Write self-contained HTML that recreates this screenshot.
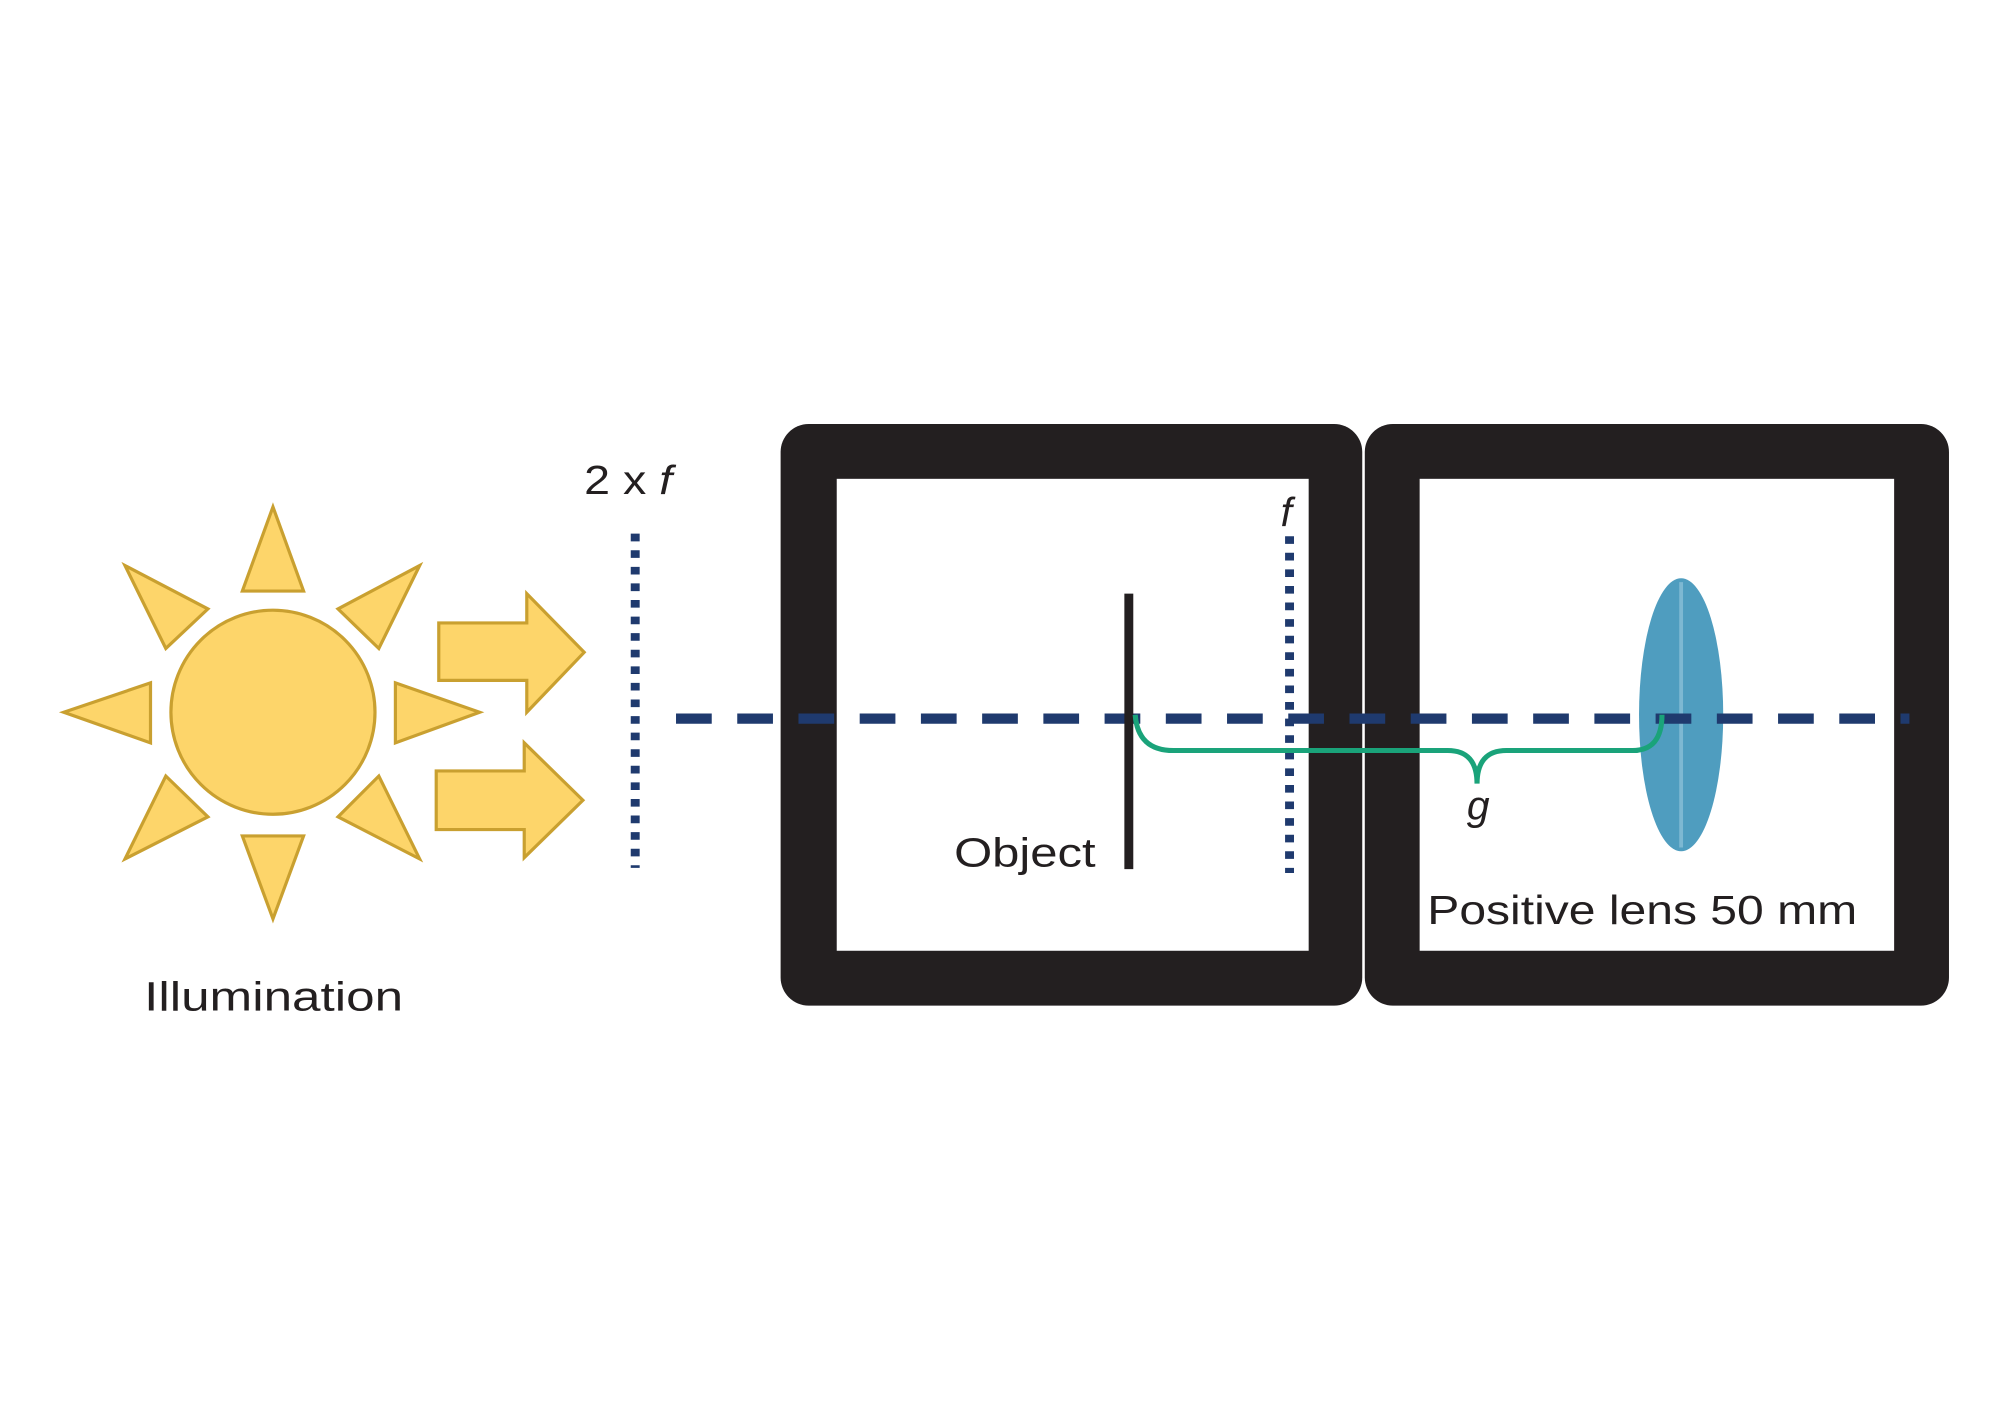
<!DOCTYPE html>
<html><head><meta charset="utf-8"><style>
html,body{margin:0;padding:0;background:#fff;}
svg{display:block;}
text{font-family:"Liberation Sans",sans-serif;fill:#231F20;}
</style></head><body>
<svg width="2000" height="1413" viewBox="0 0 1568 1107" xmlns="http://www.w3.org/2000/svg">
<rect width="1568" height="1107" fill="#fff"/>
<g fill="#FDD56A" stroke="#C9A030" stroke-width="2.5" stroke-linejoin="miter">
<circle cx="214" cy="558" r="80"/>
<polygon points="214,397 190,463 238,463"/>
<polygon points="214,720 190,655 238,655"/>
<polygon points="50,558 118,535 118,582"/>
<polygon points="376,558 310,535 310,582"/>
<polygon points="98,443 163,477 130,508"/>
<polygon points="329,443 265,477 297,508"/>
<polygon points="98,673 130,608 163,640"/>
<polygon points="329,673 297,608 265,640"/>
<polygon points="344,488 413,488 413,465 458,511 413,558 413,533 344,533"/>
<polygon points="342,604 411,604 411,582 457,627 411,672 411,650 342,650"/>
</g>
<line x1="498" y1="418" x2="498" y2="680" stroke="#1F3A6E" stroke-width="7" stroke-dasharray="6,7"/>
<text x="458" y="387" font-size="32" textLength="69" lengthAdjust="spacingAndGlyphs">2 x <tspan font-style="italic">f</tspan></text>
<rect x="612" y="332" width="456" height="456" rx="22" fill="#231F20"/>
<rect x="656" y="375" width="370" height="370" fill="#fff"/>
<rect x="1070" y="332" width="458" height="456" rx="22" fill="#231F20"/>
<rect x="1113" y="375" width="372" height="370" fill="#fff"/>
<line x1="1011" y1="420" x2="1011" y2="684" stroke="#1F3A6E" stroke-width="7" stroke-dasharray="6,7"/>
<text x="1004" y="412" font-size="32" font-style="italic">f</text>
<ellipse cx="1318" cy="560" rx="33" ry="107" fill="#4F9DBF"/>
<line x1="1318" y1="456" x2="1318" y2="664" stroke="#7DB8D2" stroke-width="3"/>
<line x1="530" y1="563" x2="1497" y2="563" stroke="#1F3A6E" stroke-width="8" stroke-dasharray="28,20"/>
<line x1="885" y1="465" x2="885" y2="681" stroke="#231F20" stroke-width="7"/>
<path d="M890,560 Q892,588 920,588 L1135,588 Q1158,588 1158,614 Q1158,588 1181,588 L1280,588 Q1303,588 1303,560" fill="none" stroke="#1AA37A" stroke-width="4"/>
<text x="1150" y="642" font-size="32" font-style="italic">g</text>
<text x="748" y="679" font-size="32" textLength="111" lengthAdjust="spacingAndGlyphs">Object</text>
<text x="1119" y="724" font-size="32" textLength="337" lengthAdjust="spacingAndGlyphs">Positive lens 50 mm</text>
<text x="113" y="792" font-size="32" textLength="203" lengthAdjust="spacingAndGlyphs">Illumination</text>
</svg>
</body></html>
